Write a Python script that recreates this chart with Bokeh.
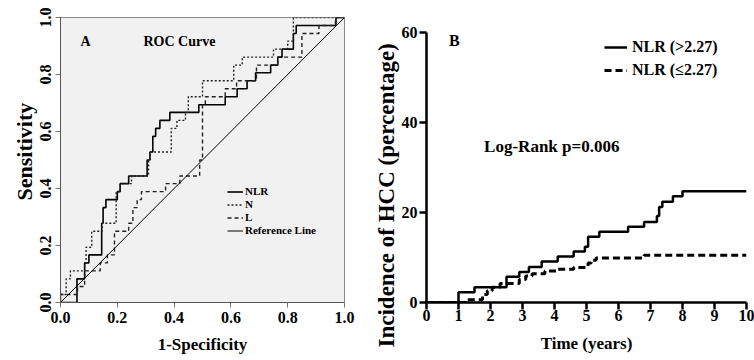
from bokeh.plotting import figure
from bokeh.layouts import row
from bokeh.models import Range1d, Legend, LegendItem, Label, Title, FixedTicker, NumeralTickFormatter
from bokeh.embed import file_html
from bokeh.resources import INLINE

FONT = "Liberation Serif"

# ---------------- Panel A: ROC curves (step corners, mode="after") ----------------
nlr_fpr = [0.0, 0.058, 0.085, 0.10, 0.145, 0.15, 0.16, 0.20, 0.21, 0.24, 0.305, 0.315, 0.325, 0.335, 0.35,
           0.385, 0.487, 0.58, 0.622, 0.657, 0.687, 0.74, 0.765, 0.78, 0.82, 0.83, 0.97, 1.0]
nlr_tpr = [0.0, 0.083, 0.139, 0.167, 0.278, 0.333, 0.361, 0.389, 0.417, 0.444, 0.5, 0.528, 0.583, 0.611, 0.639,
           0.667, 0.694, 0.722, 0.75, 0.778, 0.806, 0.833, 0.861, 0.889, 0.944, 0.972, 1.0, 1.0]

n_fpr = [0.0, 0.0, 0.02, 0.035, 0.085, 0.09, 0.11, 0.147, 0.196, 0.21, 0.25, 0.31, 0.315, 0.39, 0.41,
         0.44, 0.45, 0.5, 0.61, 0.64, 0.75, 0.80, 0.82, 1.0]
n_tpr = [0.0, 0.028, 0.083, 0.111, 0.139, 0.194, 0.25, 0.278, 0.389, 0.417, 0.444, 0.5, 0.528, 0.611, 0.639,
         0.667, 0.722, 0.778, 0.833, 0.861, 0.889, 0.917, 1.0, 1.0]

l_fpr = [0.0, 0.0, 0.06, 0.085, 0.14, 0.165, 0.19, 0.24, 0.255, 0.27, 0.285, 0.37, 0.42, 0.49, 0.5,
         0.51, 0.58, 0.62, 0.69, 0.765, 0.85, 0.91, 0.968, 1.0]
l_tpr = [0.0, 0.028, 0.056, 0.111, 0.139, 0.167, 0.25, 0.278, 0.333, 0.361, 0.389, 0.417, 0.444, 0.5, 0.694,
         0.722, 0.75, 0.778, 0.833, 0.861, 0.944, 0.972, 1.0, 1.0]

ref_x = [0.0, 1.0]
ref_y = [0.0, 1.0]
roc_ticks = [0.0, 0.2, 0.4, 0.6, 0.8, 1.0]
roc_labels = ["NLR", "N", "L", "Reference Line"]

# ---------------- Panel B: cumulative incidence (step, mode="after") ----------------
high_t = [0.0, 1.0, 1.5, 2.5, 2.9, 3.2, 3.6, 4.1, 4.6, 4.95, 5.05, 5.4, 6.3, 6.8, 7.2, 7.27, 7.37, 7.7, 8.0, 10.0]
high_v = [0.0, 2.3, 3.4, 5.7, 6.8, 7.9, 9.1, 10.2, 11.3, 12.4, 14.6, 15.7, 16.8, 17.9, 19.2, 21.2, 22.4, 23.6, 24.7, 24.7]

low_t = [0.0, 1.25, 1.75, 1.9, 2.05, 2.3, 2.9, 3.1, 3.3, 3.7, 4.1, 4.6, 5.05, 5.15, 5.3, 6.8, 10.0]
low_v = [0.0, 0.6, 1.8, 2.6, 3.4, 4.2, 5.1, 5.9, 6.4, 7.0, 7.4, 7.8, 8.8, 9.4, 9.9, 10.5, 10.5]

km_xticks = list(range(0, 11))
km_yticks = [0, 20, 40, 60]
km_labels = ["NLR (>2.27)", "NLR (\u22642.27)"]
KM_YMAX = 63.3   # view headroom above the 60 % axis end (axis line itself stops at 60)

# ======================= Figure A =======================
p1 = figure(width=360, height=360, output_backend="svg", toolbar_location=None,
            x_range=Range1d(0, 1), y_range=Range1d(0, 1))
p1.min_border_left = 60
p1.min_border_right = 16
p1.min_border_top = 17
p1.min_border_bottom = 58
p1.background_fill_color = "#f1f1f1"
p1.border_fill_color = "white"
p1.outline_line_color = "#888888"
p1.grid.visible = False

for ax in (p1.xaxis[0], p1.yaxis[0]):
    ax.ticker = FixedTicker(ticks=roc_ticks)
    ax.formatter = NumeralTickFormatter(format="0.0")
    ax.axis_line_color = "#555555"
    ax.major_tick_line_color = "#777777"
    ax.major_tick_out = 5
    ax.major_tick_in = 0
    ax.minor_tick_line_color = None
    ax.major_label_text_font = FONT
    ax.major_label_text_font_style = "bold"
    ax.major_label_text_font_size = "16px"
    ax.major_label_text_color = "black"
    ax.axis_label_text_font = FONT
    ax.axis_label_text_font_style = "bold"
    ax.axis_label_text_color = "black"

p1.xaxis.axis_label = "1-Specificity"
p1.xaxis.axis_label_text_font_size = "17px"
p1.xaxis.major_label_standoff = 4
p1.xaxis.axis_label_standoff = 9
p1.yaxis.major_label_orientation = "vertical"
p1.yaxis.major_label_standoff = 5

p1.add_layout(Title(text="Sensitivity", align="left", offset=102, standoff=0,
                    text_font=FONT, text_font_style="bold", text_font_size="22px",
                    text_color="black"), "left")

r_nlr = p1.step(nlr_fpr, nlr_tpr, mode="after", line_color="black", line_width=1.6)
r_n = p1.step(n_fpr, n_tpr, mode="after", line_color="#222222", line_width=1.4, line_dash="2 2")
r_l = p1.step(l_fpr, l_tpr, mode="after", line_color="#222222", line_width=1.4, line_dash="4 3")
r_ref = p1.line(ref_x, ref_y, line_color="black", line_width=1)

leg1 = Legend(items=[LegendItem(label=roc_labels[0], renderers=[r_nlr]),
                     LegendItem(label=roc_labels[1], renderers=[r_n]),
                     LegendItem(label=roc_labels[2], renderers=[r_l]),
                     LegendItem(label=roc_labels[3], renderers=[r_ref])],
              location=(167, 66), orientation="vertical")
leg1.margin = 0
leg1.padding = 0
leg1.spacing = 1
leg1.glyph_height = 11
leg1.glyph_width = 16
leg1.label_height = 11
leg1.label_standoff = 2
leg1.label_text_font = FONT
leg1.label_text_font_style = "bold"
leg1.label_text_font_size = "11px"
leg1.label_text_color = "black"
leg1.background_fill_alpha = 0
leg1.border_line_alpha = 0
p1.add_layout(leg1)

p1.add_layout(Label(x=0.07, y=0.89, text="A", text_font=FONT, text_font_style="bold",
                    text_font_size="14px", text_color="black"))
p1.add_layout(Label(x=0.292, y=0.89, text="ROC Curve", text_font=FONT, text_font_style="bold",
                    text_font_size="14px", text_color="black"))

# ======================= Figure B =======================
p2 = figure(width=394, height=360, output_backend="svg", toolbar_location=None,
            x_range=Range1d(0, 10), y_range=Range1d(0, KM_YMAX))
p2.min_border_left = 66
p2.min_border_right = 8
p2.min_border_top = 17
p2.min_border_bottom = 58
p2.background_fill_color = "white"
p2.border_fill_color = "white"
p2.outline_line_color = None
p2.grid.visible = False

p2.xaxis.ticker = FixedTicker(ticks=km_xticks)
p2.yaxis.ticker = FixedTicker(ticks=km_yticks)
p2.yaxis.bounds = (0, 60)
for ax in (p2.xaxis[0], p2.yaxis[0]):
    ax.axis_line_color = "black"
    ax.axis_line_width = 2.5
    ax.major_tick_line_color = "black"
    ax.major_tick_line_width = 2.5
    ax.major_tick_out = 7
    ax.major_tick_in = 0
    ax.minor_tick_line_color = None
    ax.major_label_text_font = FONT
    ax.major_label_text_font_style = "bold"
    ax.major_label_text_font_size = "16px"
    ax.major_label_text_color = "black"
    ax.axis_label_text_font = FONT
    ax.axis_label_text_font_style = "bold"
    ax.axis_label_text_color = "black"

p2.xaxis.major_label_standoff = 0
p2.yaxis.major_label_standoff = 2
p2.xaxis.axis_label = "Time (years)"
p2.xaxis.axis_label_text_font_size = "17px"
p2.xaxis.axis_label_standoff = 10

p2.add_layout(Title(text="Incidence of HCC (percentage)", align="left", offset=-45, standoff=0,
                    text_font=FONT, text_font_style="bold", text_font_size="23px",
                    text_color="black"), "left")

r_hi = p2.step(high_t, high_v, mode="after", line_color="black", line_width=2.5)
r_lo = p2.step(low_t, low_v, mode="after", line_color="black", line_width=3, line_dash="7 4")

leg2 = Legend(items=[LegendItem(label=km_labels[0], renderers=[r_hi]),
                     LegendItem(label=km_labels[1], renderers=[r_lo])],
              location=(178, 222), orientation="vertical")
leg2.margin = 0
leg2.padding = 0
leg2.spacing = 3
leg2.glyph_height = 20
leg2.glyph_width = 23
leg2.label_height = 20
leg2.label_standoff = 5
leg2.label_text_font = FONT
leg2.label_text_font_style = "bold"
leg2.label_text_font_size = "16px"
leg2.label_text_color = "black"
leg2.background_fill_alpha = 0
leg2.border_line_alpha = 0
p2.add_layout(leg2)

p2.add_layout(Label(x=0.7, y=56.3, text="B", text_font=FONT, text_font_style="bold",
                    text_font_size="16px", text_color="black"))
p2.add_layout(Label(x=1.8, y=32.6, text="Log-Rank p=0.006", text_font=FONT, text_font_style="bold",
                    text_font_size="17px", text_color="black"))

layout = row(p1, p2)
open("out.html", "w").write(file_html(layout, INLINE))
